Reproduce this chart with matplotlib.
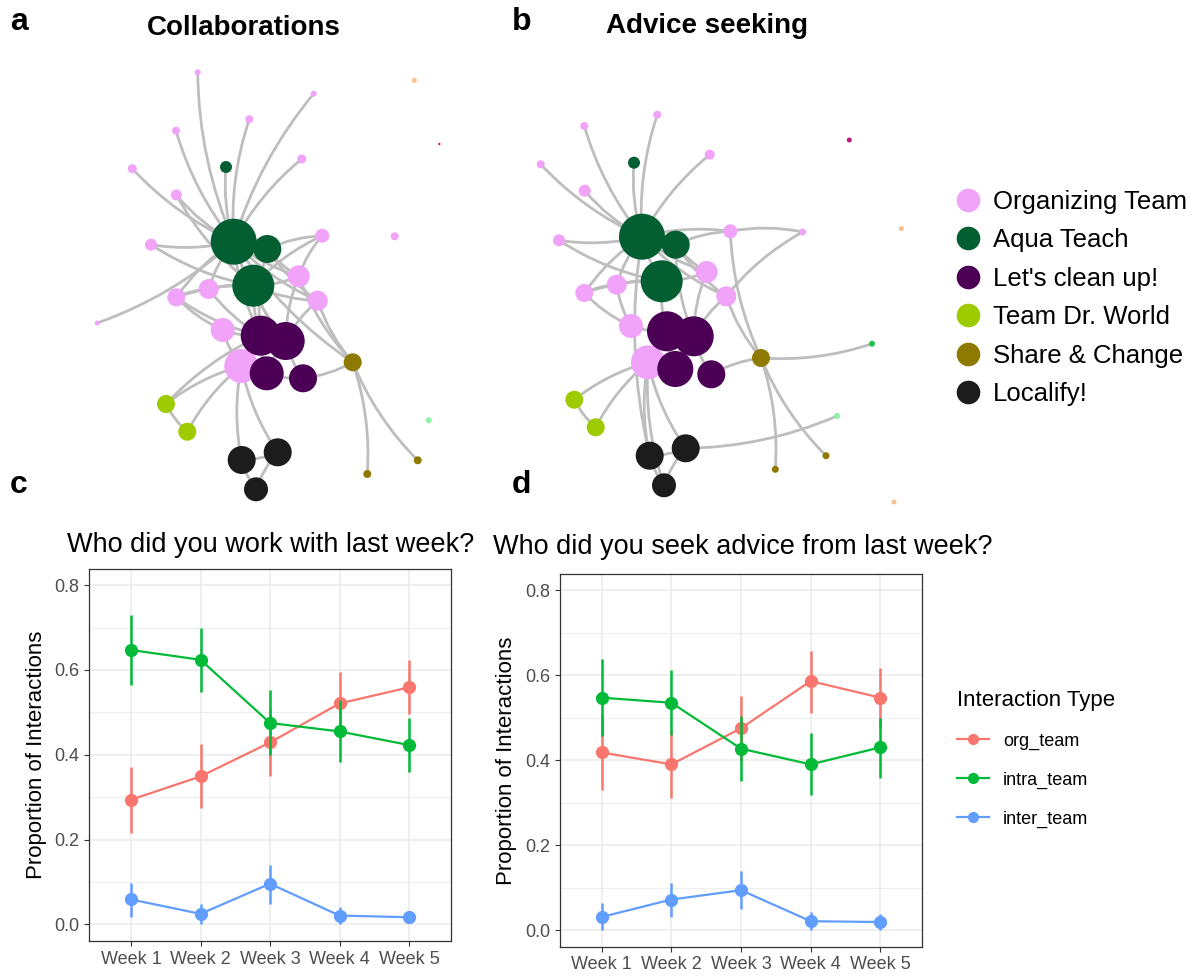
import numpy as np
import matplotlib
matplotlib.use("Agg")
import matplotlib.pyplot as plt
from matplotlib.path import Path
from matplotlib.patches import PathPatch
from matplotlib.lines import Line2D

plt.rcParams['font.family'] = ['Liberation Sans', 'DejaVu Sans']

# ---- network data ----
teams = ["Organizing Team", "Aqua Teach", "Let's clean up!", "Team Dr. World",
         "Share & Change", "Localify!"]
team_colors = ["#F0A3F8", "#035E31", "#4C0055", "#9DCB00", "#8E7A00", "#1C1C1C",
               "#F9C08C", "#C0187A", "#90F0A8", "#22C050"]

# layout positions, node radius, team index
a_x = [197.7, 313.7, 249.3, 176.0, 301.7, 132.3, 176.3, 151.0, 322.3, 394.7, 97.3,
       298.7, 317.7, 208.7, 176.3, 222.7, 241.3, 226.0, 233.7, 267.3, 253.3,
       260.7, 285.7, 266.7, 303.0, 352.7, 417.7, 367.3, 166.0, 187.3,
       241.7, 277.7, 256.0, 414.3, 439.3, 428.7]
a_y = [72.3, 93.7, 119.3, 130.7, 159.0, 168.7, 195.0, 244.7, 235.7, 236.3, 323.0,
       276.3, 300.7, 289.0, 297.3, 330.0, 366.0, 167.0, 241.7, 249.0, 285.7,
       335.7, 341.0, 373.3, 378.3, 362.3, 460.3, 474.0, 404.0, 431.7,
       460.0, 452.3, 489.3, 80.3, 144.0, 420.3]
a_r = [3, 3, 4, 4, 4.5, 4.5, 5.5, 6, 7, 4, 2.5,
       11, 10, 10, 9, 12, 17, 6, 23, 14, 21,
       20, 19, 17, 14, 9, 4, 4, 9, 9,
       14, 14, 12, 2.5, 1.2, 3]
a_team = [0] * 17 + [1] * 4 + [2] * 4 + [4] * 3 + [3] * 2 + [5] * 3 + [6, 7, 8]
a_edges = [(0, 18), (1, 18), (2, 18), (3, 18), (4, 18), (5, 18), (6, 18), (6, 20),
           (17, 18), (7, 18), (7, 20), (10, 18), (8, 19), (8, 11), (8, 20), (18, 19),
           (18, 20), (18, 11), (18, 12), (18, 13), (18, 14), (18, 21), (18, 22),
           (19, 11), (19, 12), (19, 21), (20, 13), (20, 14), (20, 11), (20, 12),
           (20, 21), (20, 22), (13, 14), (14, 15), (14, 21), (13, 21), (11, 22),
           (12, 22), (12, 25), (11, 25), (18, 25), (24, 25), (15, 21), (16, 21),
           (16, 23), (21, 22), (21, 23), (22, 23), (22, 24), (23, 24), (16, 28),
           (16, 29), (28, 29), (21, 28), (25, 26), (27, 25), (16, 30), (16, 31),
           (30, 31), (30, 32), (31, 32), (15, 16)]

b_x = [657.3, 584.3, 709.7, 540.7, 584.7, 559.0, 730.3, 802.7, 706.7, 726.3,
       616.7, 584.3, 631.0, 648.0, 634.0, 642.0, 675.7, 661.7, 667.0, 693.7,
       675.3, 711.3, 761.0, 826.0, 775.3, 574.3, 595.7, 649.7, 685.7, 664.0,
       849.3, 901.3, 872.0, 837.0, 894.0]
b_y = [114.7, 126.0, 154.7, 164.3, 190.7, 240.3, 231.3, 232.0, 272.0, 296.3,
       284.7, 293.0, 326.0, 362.3, 162.7, 236.7, 244.7, 281.3, 331.3, 336.3,
       369.0, 374.3, 358.0, 455.7, 469.3, 399.7, 427.3, 455.7, 448.3, 485.3,
       140.0, 228.7, 343.7, 416.0, 502.0]
b_r = [4, 4, 5, 4, 6, 6, 7, 3.5, 11, 10,
       10, 9, 12, 17, 6, 23, 14, 21, 20, 20,
       18, 14, 9, 3.5, 3.5, 9, 9, 14, 14, 12,
       2.5, 2.5, 3, 3, 2.5]
b_team = [0] * 14 + [1] * 4 + [2] * 4 + [4] * 3 + [3] * 2 + [5] * 3 + [7, 6, 9, 8, 6]
b_edges = [(0, 15), (1, 15), (2, 15), (3, 15), (4, 15), (14, 15), (5, 15), (5, 17),
           (6, 15), (6, 16), (7, 6), (7, 9), (6, 22), (15, 16), (15, 17), (15, 8),
           (15, 9), (15, 10), (15, 11), (16, 8), (16, 9), (16, 19), (17, 10),
           (17, 11), (17, 8), (17, 18), (10, 11), (11, 12), (10, 12), (12, 18),
           (8, 19), (9, 19), (9, 22), (22, 21), (22, 32), (22, 23), (24, 22),
           (13, 18), (13, 20), (18, 19), (18, 20), (19, 20), (19, 21), (13, 25),
           (13, 26), (25, 26), (13, 27), (13, 28), (13, 29), (27, 28), (27, 29),
           (28, 29), (28, 33), (15, 27)]

# ---- line chart data ----
weeks = ["Week 1", "Week 2", "Week 3", "Week 4", "Week 5"]
series = ["org_team", "intra_team", "inter_team"]
series_colors = ["#F8766D", "#00BA38", "#619CFF"]

org_c = [0.294, 0.349, 0.429, 0.521, 0.559]
org_c_lo = [0.216, 0.275, 0.351, 0.448, 0.495]
org_c_hi = [0.371, 0.426, 0.507, 0.594, 0.624]
intra_c = [0.647, 0.624, 0.475, 0.455, 0.423]
intra_c_lo = [0.565, 0.548, 0.399, 0.383, 0.360]
intra_c_hi = [0.729, 0.700, 0.552, 0.528, 0.487]
inter_c = [0.059, 0.025, 0.096, 0.021, 0.017]
inter_c_lo = [0.018, 0.0, 0.049, 0.0, 0.004]
inter_c_hi = [0.098, 0.049, 0.140, 0.042, 0.027]

org_d = [0.418, 0.390, 0.475, 0.586, 0.547]
org_d_lo = [0.329, 0.312, 0.399, 0.512, 0.477]
org_d_hi = [0.507, 0.468, 0.551, 0.657, 0.617]
intra_d = [0.547, 0.535, 0.427, 0.390, 0.430]
intra_d_lo = [0.457, 0.459, 0.351, 0.318, 0.359]
intra_d_hi = [0.637, 0.613, 0.504, 0.463, 0.500]
inter_d = [0.031, 0.072, 0.094, 0.021, 0.019]
inter_d_lo = [0.0, 0.031, 0.049, 0.0, 0.0]
inter_d_hi = [0.063, 0.112, 0.139, 0.042, 0.037]

W, H = 1201, 976
fig = plt.figure(figsize=(W / 100, H / 100), dpi=100)


def px_axes(x0, y0, x1, y1):
    return fig.add_axes([x0 / W, 1 - y1 / H, (x1 - x0) / W, (y1 - y0) / H])


def draw_network(ax, xs, ys, rs, tm, edges, bend=0.1):
    xs, ys = np.array(xs), np.array(ys)
    for i, j in edges:
        p = np.array([xs[i], ys[i]])
        q = np.array([xs[j], ys[j]])
        m = (p + q) / 2
        d = q - p
        c = m + bend * np.array([-d[1], d[0]])
        path = Path([p, c, q], [Path.MOVETO, Path.CURVE3, Path.CURVE3])
        ax.add_patch(PathPatch(path, fc='none', ec='#BEBEBE', lw=2.0, zorder=1))
    sizes = (1.44 * np.array(rs)) ** 2
    cols = [team_colors[t] for t in tm]
    ax.scatter(xs, ys, s=sizes, c=cols, linewidths=0, zorder=2)
    ax.axis('off')


ax_a = px_axes(60, 45, 470, 510)
ax_a.set_xlim(60, 470)
ax_a.set_ylim(510, 45)
draw_network(ax_a, a_x, a_y, a_r, a_team, a_edges)

ax_b = px_axes(500, 60, 940, 520)
ax_b.set_xlim(500, 940)
ax_b.set_ylim(520, 60)
draw_network(ax_b, b_x, b_y, b_r, b_team, b_edges)

handles = [Line2D([], [], marker='o', ls='', markersize=17, color=team_colors[k],
                  markeredgewidth=0) for k in range(len(teams))]
fig.legend(handles, teams, loc='upper left', bbox_to_anchor=(955 / W, 1 - 190 / H),
           frameon=False, fontsize=18.5, handlelength=1.0, handletextpad=0.47,
           borderpad=0, borderaxespad=0, labelspacing=0.56)


def draw_lines(ax, data):
    x = np.arange(1, 6)
    for k, (mid, lo, hi) in enumerate(data):
        ax.plot(x, mid, color=series_colors[k], lw=1.6, zorder=3)
    for k, (mid, lo, hi) in enumerate(data):
        ax.vlines(x, lo, hi, color=series_colors[k], lw=1.8, zorder=4 + k)
        ax.plot(x, mid, 'o', color=series_colors[k], ms=8.5, zorder=4 + k)
    ax.set_xlim(0.4, 5.6)
    ax.set_ylim(-0.039, 0.838)
    ax.set_xticks(x)
    ax.set_xticklabels(weeks)
    ax.set_yticks([0, 0.2, 0.4, 0.6, 0.8])
    ax.set_yticklabels(["0.0", "0.2", "0.4", "0.6", "0.8"])
    ax.set_yticks([0.1, 0.3, 0.5, 0.7], minor=True)
    ax.grid(True, which='major', color='#EBEBEB', lw=1.1, zorder=0)
    ax.grid(True, which='minor', axis='y', color='#EBEBEB', lw=0.6, zorder=0)
    ax.tick_params(which='major', labelsize=13, colors='#333333', labelcolor='#4D4D4D',
                   length=3.5, width=0.8)
    ax.tick_params(which='minor', length=0)
    for s in ax.spines.values():
        s.set_color('#333333')
        s.set_linewidth(0.9)
    ax.set_ylabel("Proportion of Interactions", fontsize=16)
    ax.set_axisbelow(True)


ax_c = px_axes(89.3, 569, 450.7, 941)
draw_lines(ax_c, [(org_c, org_c_lo, org_c_hi), (intra_c, intra_c_lo, intra_c_hi),
                  (inter_c, inter_c_lo, inter_c_hi)])
ax_c.yaxis.set_label_coords(-0.117, 0.5)

ax_d = px_axes(560, 574, 922, 946.7)
draw_lines(ax_d, [(org_d, org_d_lo, org_d_hi), (intra_d, intra_d_lo, intra_d_hi),
                  (inter_d, inter_d_lo, inter_d_hi)])
ax_d.yaxis.set_label_coords(-0.119, 0.5)

lh = [Line2D([], [], color=series_colors[k], lw=1.6, marker='o', ms=7) for k in range(3)]
leg = fig.legend(lh, series, loc='upper left', bbox_to_anchor=(957 / W, 1 - 690 / H),
                 frameon=False, fontsize=13, title="Interaction Type", title_fontsize=16,
                 handlelength=1.75, handletextpad=0.8, borderpad=0, borderaxespad=0,
                 labelspacing=1.2)
leg._legend_box.align = "left"

# titles and panel letters
fig.text(244 / W, 1 - 35 / H, "Collaborations", fontsize=20, fontweight='bold',
         ha='center', va='baseline')
fig.text(707 / W, 1 - 33 / H, "Advice seeking", fontsize=20, fontweight='bold',
         ha='center', va='baseline')
for lab, x, y in [("a", 10, 30), ("b", 512, 30), ("c", 10, 493), ("d", 512, 493)]:
    fig.text(x / W, 1 - y / H, lab, fontsize=23, fontweight='bold', va='baseline')
fig.text(67 / W, 1 - 552 / H, "Who did you work with last week?", fontsize=19.5,
         va='baseline')
fig.text(493 / W, 1 - 554 / H, "Who did you seek advice from last week?", fontsize=19.5,
         va='baseline')

fig.savefig("out.png", dpi=100)
